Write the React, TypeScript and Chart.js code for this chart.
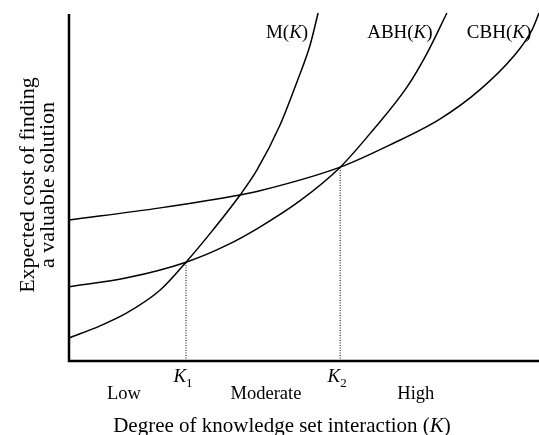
import React, { useEffect, useRef } from "react";
import { Chart, registerables } from "chart.js";

Chart.register(...registerables);

// Degree of knowledge set interaction (K), arbitrary 0–100 units
const mK = [0, 6.6, 12.3, 19.4, 24.9, 30.6, 36.4, 40.0, 44.9, 48.5, 51.3, 53.0];
const mCost = [6.6, 10.1, 13.8, 20.4, 28.4, 37.6, 47.7, 54.9, 67.8, 80.2, 90.8, 100];

const abhK = [0, 12.3, 24.9, 33.6, 40.6, 49.1, 57.7, 64.7, 71.9, 76.2, 80.4];
const abhCost = [21.3, 23.9, 28.4, 33.3, 38.5, 46.0, 55.7, 66.4, 78.7, 88.5, 100];

const cbhK = [0, 19.4, 36.4, 40.6, 57.7, 68.3, 78.9, 87.4, 94.5, 98.5, 100];
const cbhCost = [40.5, 44.0, 47.7, 48.9, 55.7, 62.1, 69.5, 77.9, 87.4, 95.1, 100];

// Thresholds K1, K2 (intersection points)
const thresholdNames = ["1", "2"];
const thresholdK = [24.9, 57.7];
const thresholdCost = [28.4, 55.7];

// Region labels under the axis
const regionLabels = ["Low", "Moderate", "High"];
const regionK = [11.7, 41.9, 73.8];

// Curve labels
const curveNames = ["M", "ABH", "CBH"];
const curveLabelK = [46.4, 70.4, 91.5];
const curveLabelCost = 94.5;

const xTitle = "Degree of knowledge set interaction (";
const yTitleLines = ["Expected cost of finding", "a valuable solution"];

const SERIF = '"Liberation Serif", "Times New Roman", serif';

function toPoints(xs: number[], ys: number[]) {
  return xs.map((x, i) => ({ x, y: ys[i] }));
}

type Seg = { text: string; italic?: boolean; sub?: boolean };

function drawRich(ctx: CanvasRenderingContext2D, segs: Seg[], cx: number, cy: number, size: number) {
  const fontFor = (s: Seg) =>
    `${s.italic ? "italic " : ""}${s.sub ? Math.round(size * 0.7) : size}px ${SERIF}`;
  let total = 0;
  const widths = segs.map((s) => {
    ctx.font = fontFor(s);
    const w = ctx.measureText(s.text).width;
    total += w;
    return w;
  });
  let x = cx - total / 2;
  ctx.textBaseline = "alphabetic";
  ctx.textAlign = "left";
  segs.forEach((s, i) => {
    ctx.font = fontFor(s);
    ctx.fillText(s.text, x, cy + size * 0.33 + (s.sub ? size * 0.25 : 0));
    x += widths[i];
  });
}

const decorPlugin = {
  id: "decor",
  afterDatasetsDraw(chart: any) {
    const { ctx, chartArea, scales } = chart;
    const xs = scales.x;
    const ys = scales.y;
    ctx.save();
    ctx.strokeStyle = "#000";
    ctx.fillStyle = "#000";
    ctx.lineWidth = 2.5;
    ctx.beginPath();
    ctx.moveTo(chartArea.left, chartArea.top + 1);
    ctx.lineTo(chartArea.left, chartArea.bottom);
    ctx.lineTo(chartArea.right, chartArea.bottom);
    ctx.stroke();

    // curve labels
    curveNames.forEach((n, i) => {
      drawRich(
        ctx,
        [{ text: n + "(" }, { text: "K", italic: true }, { text: ")" }],
        xs.getPixelForValue(curveLabelK[i]),
        ys.getPixelForValue(curveLabelCost),
        19
      );
    });

    // K1, K2
    thresholdNames.forEach((n, i) => {
      drawRich(
        ctx,
        [{ text: "K", italic: true }, { text: n, sub: true }],
        xs.getPixelForValue(thresholdK[i]) - 3,
        chartArea.bottom + 15,
        19
      );
    });

    // region labels
    regionLabels.forEach((t, i) => {
      drawRich(ctx, [{ text: t }], xs.getPixelForValue(regionK[i]), chartArea.bottom + 32, 18.5);
    });

    // x title
    drawRich(
      ctx,
      [{ text: xTitle }, { text: "K", italic: true }, { text: ")" }],
      (chartArea.left + chartArea.right) / 2 - 22,
      chartArea.bottom + 64,
      21
    );

    // y title
    ctx.translate(0, (chartArea.top + chartArea.bottom) / 2 - 2);
    ctx.rotate(-Math.PI / 2);
    yTitleLines.forEach((t, i) => {
      drawRich(ctx, [{ text: t }], 0, 27 + i * 19.5, 22);
    });
    ctx.restore();
  },
};

export default function App() {
  const ref = useRef<HTMLCanvasElement>(null);
  useEffect(() => {
    if (!ref.current) return;
    const line = (data: { x: number; y: number }[]) => ({
      data,
      borderColor: "#000",
      borderWidth: 1.5,
      pointRadius: 0,
      fill: false,
      cubicInterpolationMode: "monotone" as const,
      clip: false as any,
    });
    const dotted = (i: number) => ({
      data: [
        { x: thresholdK[i], y: 0 },
        { x: thresholdK[i], y: thresholdCost[i] },
      ],
      borderColor: "#000",
      borderWidth: 1,
      borderDash: [1, 1.5],
      pointRadius: 0,
      fill: false,
    });
    const chart = new Chart(ref.current, {
      type: "line",
      data: {
        datasets: [
          line(toPoints(mK, mCost)),
          line(toPoints(abhK, abhCost)),
          line(toPoints(cbhK, cbhCost)),
          dotted(0),
          dotted(1),
        ] as any,
      },
      options: {
        animation: false,
        responsive: false,
        maintainAspectRatio: false,
        layout: { padding: { left: 69, right: 0, top: 13, bottom: 74 } },
        plugins: { legend: { display: false }, tooltip: { enabled: false } },
        scales: {
          x: { type: "linear", min: 0, max: 100, display: false },
          y: { type: "linear", min: 0, max: 100, display: false },
        },
      },
      plugins: [decorPlugin],
    });
    return () => chart.destroy();
  }, []);
  return (
    <div style={{ position: "absolute", left: 0, top: 0, width: 539, height: 435, background: "#fff" }}>
      <canvas ref={ref} width={539} height={435} style={{ width: 539, height: 435, display: "block" }} />
    </div>
  );
}
